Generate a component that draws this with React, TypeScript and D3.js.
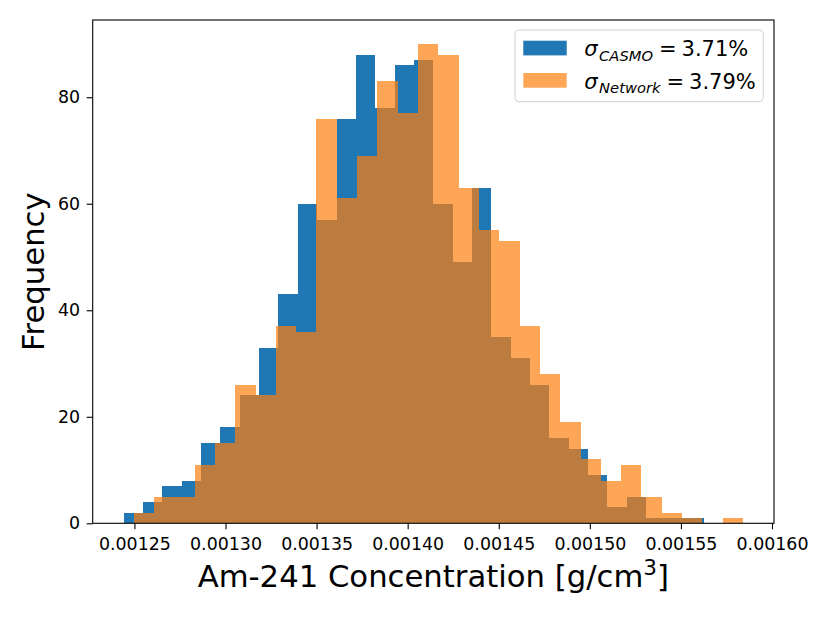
import React, { useEffect, useRef } from 'react';
import * as d3 from 'd3';

// histogram counts (30 bins each)
const casmoCounts = [2, 4, 7, 8, 15, 18, 24, 33, 43, 60, 57, 76, 88, 78, 86, 87, 60, 49, 63, 35, 31, 26, 16, 14, 9, 3, 5, 1, 1, 1];
const networkCounts = [2, 5, 5, 11, 15, 26, 24, 37, 36, 76, 61, 69, 83, 77, 90, 88, 63, 55, 53, 37, 28, 19, 12, 8, 11, 5, 2, 1, 0, 1];
// first and last bin edge of each histogram
const casmoRange = [0.0012441, 0.0015628];
const networkRange = [0.0012496, 0.0015841];

const xTicks = [0.00125, 0.0013, 0.00135, 0.0014, 0.00145, 0.0015, 0.00155, 0.0016];
const yTicks = [0, 20, 40, 60, 80];

const seriesNames = ['CASMO', 'Network'];
const sigmaValues = ['3.71%', '3.79%'];
const seriesColors = ['#1f77b4', '#ff7f0e'];
const seriesAlpha = [1, 0.7];

const binEdges = (range: number[], n: number) =>
  d3.range(n + 1).map(i => range[0] + ((range[1] - range[0]) * i) / n);

const App: React.FC = () => {
  const ref = useRef<SVGSVGElement>(null);

  useEffect(() => {
    const width = 830;
    const height = 623;
    const margin = { top: 20, right: 56, bottom: 99.7, left: 92.7 };
    const font = 'DejaVu Sans, sans-serif';

    const svg = d3.select(ref.current);
    svg.selectAll('*').remove();
    svg.attr('width', width).attr('height', height);

    const lo = Math.min(casmoRange[0], networkRange[0]);
    const hi = Math.max(casmoRange[1], networkRange[1]);
    const pad = (hi - lo) * 0.05;
    const yMax = d3.max([...casmoCounts, ...networkCounts]) as number;

    const x = d3.scaleLinear()
      .domain([lo - pad, hi + pad])
      .range([margin.left, width - margin.right]);
    const y = d3.scaleLinear()
      .domain([0, yMax * 1.05])
      .range([height - margin.bottom, margin.top]);

    const series = [
      { counts: casmoCounts, edges: binEdges(casmoRange, casmoCounts.length) },
      { counts: networkCounts, edges: binEdges(networkRange, networkCounts.length) },
    ];

    series.forEach((s, k) => {
      svg.append('g')
        .selectAll('rect')
        .data(s.counts)
        .join('rect')
        .attr('x', (_, i) => x(s.edges[i]))
        .attr('width', (_, i) => x(s.edges[i + 1]) - x(s.edges[i]))
        .attr('y', d => y(d))
        .attr('height', d => y(0) - y(d))
        .attr('fill', seriesColors[k])
        .attr('fill-opacity', seriesAlpha[k])
        .attr('shape-rendering', 'crispEdges');
    });

    // axes
    const xAxis = svg.append('g')
      .attr('transform', `translate(0,${height - margin.bottom})`)
      .call(d3.axisBottom(x).tickValues(xTicks).tickFormat(d3.format('.5f')).tickSize(6).tickPadding(8).tickSizeOuter(0));
    const yAxis = svg.append('g')
      .attr('transform', `translate(${margin.left},0)`)
      .call(d3.axisLeft(y).tickValues(yTicks).tickFormat(d3.format('d')).tickSize(6).tickPadding(6.5).tickSizeOuter(0));

    [xAxis, yAxis].forEach(a => {
      a.select('.domain').remove();
      a.selectAll('line').attr('stroke', '#000').attr('stroke-width', 1.1);
      a.selectAll('text').attr('fill', '#000').style('font-family', font).style('font-size', '17.4px');
    });

    svg.append('rect')
      .attr('x', margin.left)
      .attr('y', margin.top)
      .attr('width', width - margin.left - margin.right)
      .attr('height', height - margin.top - margin.bottom)
      .attr('fill', 'none')
      .attr('stroke', '#000')
      .attr('stroke-width', 1.1);

    // axis titles
    const xt = svg.append('text')
      .attr('x', (margin.left + width - margin.right) / 2)
      .attr('y', 587)
      .attr('text-anchor', 'middle')
      .style('font-family', font)
      .style('font-size', '30.7px');
    xt.append('tspan').text('Am-241 Concentration [g/cm');
    xt.append('tspan').attr('dy', -12).style('font-size', '21.5px').text('3');
    xt.append('tspan').attr('dy', 12).text(']');

    svg.append('text')
      .attr('transform', `translate(43.5,${(margin.top + height - margin.bottom) / 2}) rotate(-90)`)
      .attr('text-anchor', 'middle')
      .style('font-family', font)
      .style('font-size', '30.7px')
      .text('Frequency');

    // legend
    const lg = svg.append('g').attr('transform', 'translate(515,30)');
    lg.append('rect')
      .attr('width', 248.3)
      .attr('height', 71.7)
      .attr('rx', 4)
      .attr('fill', '#fff')
      .attr('fill-opacity', 0.8)
      .attr('stroke', '#d0d0d0')
      .attr('stroke-width', 1);

    seriesNames.forEach((name, k) => {
      const row = lg.append('g').attr('transform', `translate(0,${k * 32.3})`);
      row.append('rect')
        .attr('x', 8.3)
        .attr('y', 10.7)
        .attr('width', 43.4)
        .attr('height', 14.7)
        .attr('fill', seriesColors[k])
        .attr('fill-opacity', seriesAlpha[k]);
      const t = row.append('text')
        .attr('x', 69.3)
        .attr('y', 26.3)
        .style('font-family', font)
        .style('font-size', '21px');
      t.append('tspan').style('font-style', 'italic').text('σ');
      t.append('tspan').style('font-style', 'italic').style('font-size', '14.7px').attr('dx', 1.5).attr('dy', 4.5).text(name);
      t.append('tspan').attr('dy', -4.5).attr('dx', 6).text('=');
      t.append('tspan').attr('dx', 5).text(sigmaValues[k]);
    });
  }, []);

  return (
    <svg ref={ref} style={{ position: 'absolute', left: 0, top: 0, display: 'block' }} />
  );
};

export default App;
